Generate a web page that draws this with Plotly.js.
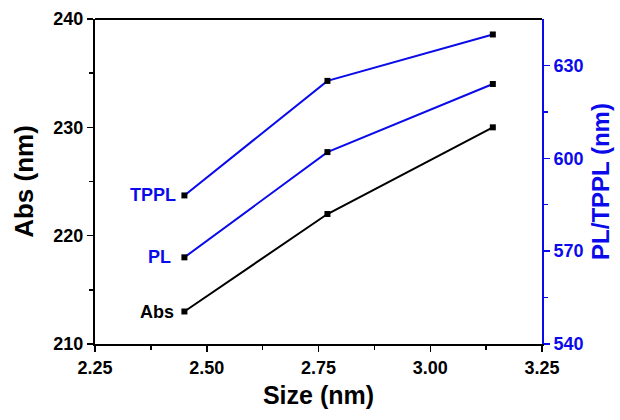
<!DOCTYPE html>
<html><head><meta charset="utf-8">
<script src="https://cdn.plot.ly/plotly-3.0.1.min.js"></script>
<style>html,body{margin:0;padding:0;background:#fff}#c{width:620px;height:420px}</style>
</head><body><div id="c"></div>
<script>
const sizes = [2.45, 2.77, 3.14];
const absVals = [213, 222, 230];
const plVals = [568, 602, 624];
const tpplVals = [588, 625, 640];
const seriesNames = ['Abs', 'PL', 'TPPL'];
const xTicks = [2.25, 2.5, 2.75, 3.0, 3.25];
const xTickLabels = ['2.25', '2.50', '2.75', '3.00', '3.25'];
const absTicks = [210, 220, 230, 240];
const plTicks = [540, 570, 600, 630];
const blue = 'rgb(10,10,235)';
const fontFam = 'Liberation Sans, Arial, sans-serif';
const b = s => '<b>' + s + '</b>';

const mk = {symbol: 'square', size: 6, color: '#000'};
const traces = [
  {x: sizes, y: absVals, name: seriesNames[0], mode: 'lines+markers', line: {color: '#000', width: 2}, marker: mk, yaxis: 'y'},
  {x: sizes, y: plVals, name: seriesNames[1], mode: 'lines+markers', line: {color: blue, width: 2}, marker: mk, yaxis: 'y2'},
  {x: sizes, y: tpplVals, name: seriesNames[2], mode: 'lines+markers', line: {color: blue, width: 2}, marker: mk, yaxis: 'y2'}
];

const ann = [
  {x: sizes[0], y: absVals[0], yref: 'y', text: b(seriesNames[0]), color: '#000', xs: -8},
  {x: sizes[0], y: plVals[0], yref: 'y2', text: b(seriesNames[1]), color: blue, xs: -11},
  {x: sizes[0], y: tpplVals[0], yref: 'y2', text: b(seriesNames[2]), color: blue, xs: -6}
].map(a => ({x: a.x, y: a.y, xref: 'x', yref: a.yref, text: a.text, showarrow: false,
  xanchor: 'right', yanchor: 'middle', xshift: a.xs, font: {family: fontFam, size: 18, color: a.color}}));

const tickCommon = {ticks: 'outside', ticklen: 6, tickwidth: 1.5, showgrid: false, zeroline: false, linewidth: 2, showline: true};

const layout = {
  width: 620, height: 420,
  margin: {l: 95, r: 78, t: 19, b: 76},
  paper_bgcolor: '#fff', plot_bgcolor: '#fff',
  showlegend: false,
  font: {family: fontFam, color: '#000'},
  xaxis: Object.assign({}, tickCommon, {
    range: [2.25, 3.25], tickvals: xTicks, ticktext: xTickLabels.map(b),
    tickcolor: '#000', linecolor: '#000',
    minor: {tickvals: [2.375, 2.625, 2.875, 3.125], ticks: 'outside', ticklen: 4, tickwidth: 1.5, tickcolor: '#000'},
    tickfont: {size: 18, family: fontFam, weight: 'bold'},
    title: {text: b('Size (nm)'), font: {size: 25, family: fontFam, weight: 'bold'}, standoff: 10}
  }),
  yaxis: Object.assign({}, tickCommon, {
    range: [210, 240], tickvals: absTicks, ticktext: absTicks.map(v => b(v)),
    tickcolor: '#000', linecolor: '#000',
    minor: {tickvals: [215, 225, 235], ticks: 'outside', ticklen: 4, tickwidth: 1.5, tickcolor: '#000'},
    tickfont: {size: 18, family: fontFam, weight: 'bold'},
    title: {text: b('Abs (nm)'), font: {size: 26, family: fontFam, weight: 'bold'}, standoff: 12}
  }),
  yaxis2: Object.assign({}, tickCommon, {
    overlaying: 'y', side: 'right', range: [540, 645], tickvals: plTicks, ticktext: plTicks.map(v => b(v)),
    tickcolor: blue, linecolor: blue,
    minor: {tickvals: [555, 585, 615], ticks: 'outside', ticklen: 4, tickwidth: 1.5, tickcolor: blue},
    tickfont: {size: 18, family: fontFam, color: blue, weight: 'bold'},
    title: {text: b('PL/TPPL (nm)'), font: {size: 24, family: fontFam, color: blue, weight: 'bold'}, standoff: 10}
  }),
  shapes: [{type: 'line', xref: 'paper', yref: 'paper', x0: 0, x1: 1, y0: 1, y1: 1, line: {color: '#000', width: 2}}],
  annotations: ann
};
Plotly.newPlot('c', traces, layout, {displayModeBar: false, staticPlot: true});
</script></body></html>
